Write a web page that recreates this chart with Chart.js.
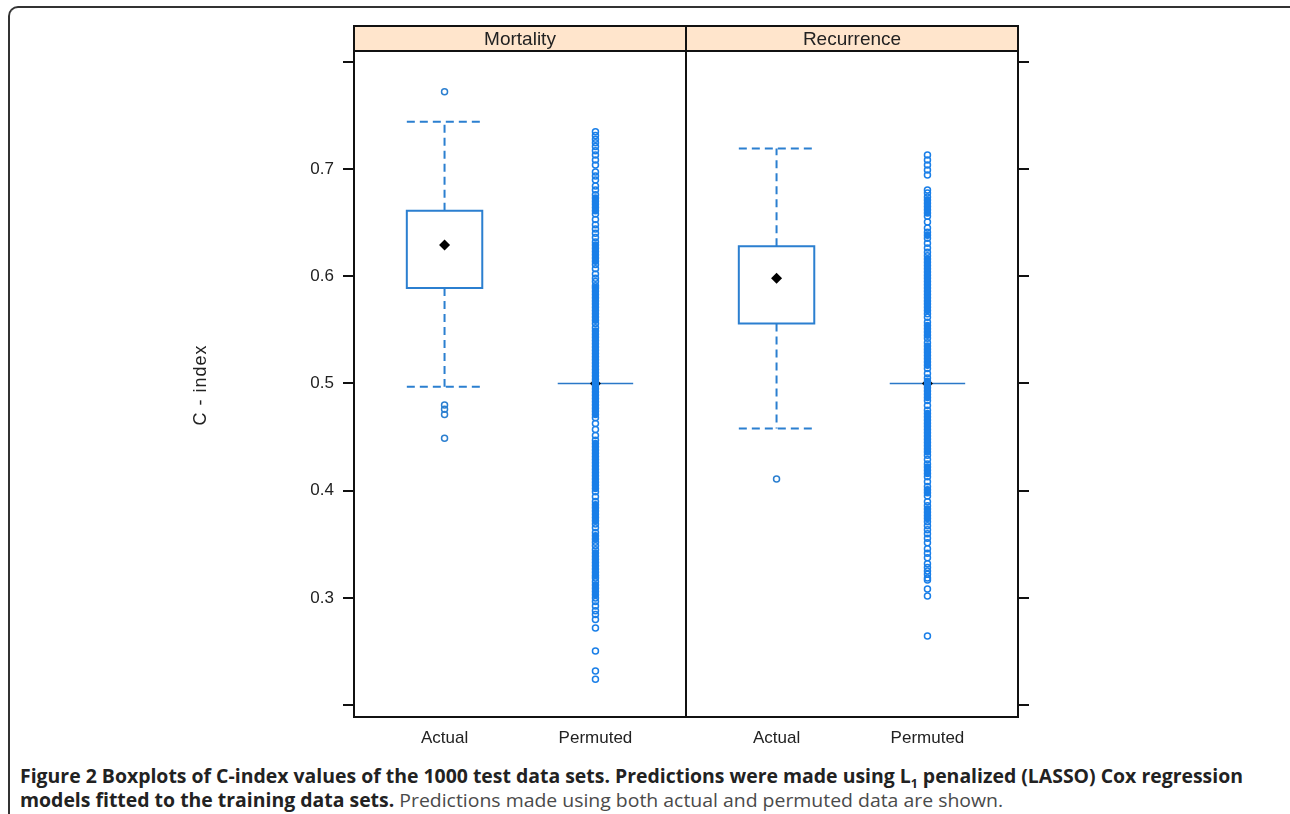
<!DOCTYPE html>
<html>
<head>
<meta charset="utf-8">
<script src="https://cdn.jsdelivr.net/npm/chart.js@4.4.0/dist/chart.umd.min.js"></script>
<style>
html, body { margin: 0; padding: 0; background: #fff; }
body { width: 1290px; height: 814px; position: relative; overflow: hidden; }
#frame { position: absolute; left: 8px; top: 6px; width: 1300px; height: 830px;
  border-top: 2px solid #333; border-left: 2px solid #333; border-top-left-radius: 10px; }
#chart { position: absolute; left: 0; top: 0; }
.cap { position: absolute; left: 20px; font-family: "Open Sans"; font-size: 19px;
  white-space: nowrap; transform-origin: 0 0; color: #222; }
.cap b { font-weight: 700; }
.cap span { color: #4a4a4a; }
.cap sub { font-size: 12px; }
</style>
</head>
<body>
<div id="frame"></div>
<canvas id="chart" width="1290" height="760"></canvas>
<div class="cap" id="cap1" style="top:763px"><b>Figure 2 Boxplots of C-index values of the 1000 test data sets. Predictions were made using L<sub>1</sub> penalized (LASSO) Cox regression</b></div>
<div class="cap" id="cap2" style="top:787px"><b>models fitted to the training data sets.</b><span> Predictions made using both actual and permuted data are shown.</span></div>
<script>
// --- DATA ---
const panels = ['Mortality', 'Recurrence'];
const groups = ['Actual', 'Permuted', 'Actual', 'Permuted'];
const groupPos = [1, 2, 3.2, 4.2];     // x positions (lattice units), panel split at 2.6

// box stats per group: lower whisker, q1, median, q3, upper whisker
const whiskLo = [0.497, 0.5, 0.458, 0.5];
const q1      = [0.589, 0.5, 0.556, 0.5];
const median  = [0.629, 0.5, 0.598, 0.5];
const q3      = [0.661, 0.5, 0.628, 0.5];
const whiskHi = [0.744, 0.5, 0.719, 0.5];

// outlying points
const mortActualOut = [0.772, 0.480, 0.476, 0.471, 0.449];
const mortPermOut = [
  0.7346, 0.7312, 0.7278, 0.7244, 0.7210, 0.7170, 0.7131, 0.7084, 0.7037, 0.6972, 0.6935, 0.6897, 0.6841, 0.6804,
  0.676, 0.673, 0.670, 0.667, 0.664, 0.661, 0.658, 0.653, 0.648, 0.644, 0.640, 0.636, 0.632, 0.629, 0.626, 0.623,
  0.620, 0.617, 0.614, 0.611, 0.607, 0.602, 0.598, 0.595, 0.591, 0.589, 0.586, 0.583, 0.580, 0.577, 0.574, 0.571,
  0.568, 0.565, 0.562, 0.559, 0.556, 0.552, 0.549, 0.546, 0.543, 0.540, 0.537, 0.534, 0.531, 0.528, 0.525, 0.522,
  0.519, 0.516, 0.513, 0.510, 0.507, 0.504, 0.501, 0.498, 0.495, 0.492, 0.489, 0.486, 0.483, 0.480, 0.477, 0.474,
  0.471, 0.468, 0.4626, 0.457, 0.4514, 0.447, 0.444, 0.441, 0.438, 0.435, 0.432, 0.429, 0.426, 0.423, 0.420, 0.417,
  0.414, 0.411, 0.408, 0.405, 0.402, 0.399, 0.3944, 0.390, 0.387, 0.384, 0.381, 0.378, 0.375, 0.372, 0.369, 0.3654,
  0.361, 0.358, 0.355, 0.352, 0.3486, 0.345, 0.342, 0.339, 0.336, 0.333, 0.330, 0.327, 0.324, 0.321, 0.3187, 0.315,
  0.312, 0.309, 0.306, 0.303, 0.300,
  0.2966, 0.2925, 0.288, 0.2845, 0.280, 0.272, 0.2505, 0.2318, 0.2243
];
const recActualOut = [0.411];
const recPermOut = [
  0.7131, 0.7084, 0.7037, 0.6991, 0.6944, 0.6804, 0.6776, 0.6738, 0.671,
  0.668, 0.665, 0.662, 0.659, 0.656, 0.6505, 0.6449, 0.641, 0.6383, 0.6355, 0.6308, 0.6262, 0.6224, 0.619, 0.616,
  0.613, 0.610, 0.607, 0.604, 0.601, 0.598, 0.595, 0.592, 0.589, 0.586, 0.583, 0.580, 0.577, 0.574, 0.571, 0.568,
  0.565, 0.5617, 0.557, 0.554, 0.551, 0.548, 0.545, 0.5421, 0.538, 0.535, 0.532, 0.529, 0.526, 0.523, 0.520, 0.517,
  0.514, 0.5093, 0.505, 0.502, 0.499, 0.496, 0.493, 0.490, 0.487, 0.484, 0.4794, 0.475, 0.472, 0.469, 0.466, 0.463,
  0.460, 0.457, 0.454, 0.451, 0.448, 0.445, 0.442, 0.439, 0.436, 0.433, 0.429, 0.425, 0.422, 0.419, 0.416, 0.413,
  0.4084, 0.404, 0.401, 0.398, 0.395, 0.3897, 0.386, 0.383, 0.380, 0.377, 0.374, 0.371, 0.3673, 0.3635, 0.3598,
  0.3556, 0.3514, 0.3458, 0.3416, 0.3374, 0.3318, 0.3285, 0.3252, 0.322, 0.3187, 0.3168,
  0.3084, 0.3019, 0.2645
];
const outliers = [mortActualOut, mortPermOut, recActualOut, recPermOut];

const yTickVals = [0.2, 0.3, 0.4, 0.5, 0.6, 0.7, 0.8];
const yTickLabels = ['', '0.3', '0.4', '0.5', '0.6', '0.7', ''];

// --- STYLE ---
const blue = '#1a7fe8';
const boxBlue = '#2b7fd0';
const axisFont = { family: 'Liberation Sans, Arial', size: 17 };

// --- lattice-ish panels, boxes and whiskers ---
const latticePlugin = {
  id: 'lattice',
  beforeDatasetsDraw(chart) {
    const { ctx, scales: { x, y } } = chart;
    ctx.save();
    groupPos.forEach((p, i) => {
      const cx = x.getPixelForValue(p);
      const hw = x.getPixelForValue(p + 0.25) - cx;
      const yq1 = y.getPixelForValue(q1[i]), yq3 = y.getPixelForValue(q3[i]);
      const ylo = y.getPixelForValue(whiskLo[i]), yhi = y.getPixelForValue(whiskHi[i]);
      ctx.strokeStyle = boxBlue;
      ctx.lineWidth = 2;
      if (yq1 === yq3) {
        // degenerate box: just the line
        ctx.lineWidth = 1.6;
        ctx.strokeStyle = '#2a78c8';
        ctx.beginPath(); ctx.moveTo(cx - hw, yq1); ctx.lineTo(cx + hw, yq1); ctx.stroke();
        return;
      }
      // whiskers
      ctx.setLineDash([8, 5]);
      ctx.beginPath();
      ctx.moveTo(cx, yq3); ctx.lineTo(cx, yhi);
      ctx.moveTo(cx, yq1); ctx.lineTo(cx, ylo);
      ctx.moveTo(cx - hw, yhi); ctx.lineTo(cx + hw, yhi);
      ctx.moveTo(cx - hw, ylo); ctx.lineTo(cx + hw, ylo);
      ctx.stroke();
      ctx.setLineDash([]);
      // box
      ctx.beginPath();
      ctx.rect(cx - hw, yq3, 2 * hw, yq1 - yq3);
      ctx.stroke();
    });
    ctx.restore();
  },
  afterDraw(chart) {
    const { ctx, chartArea: a, scales: { x } } = chart;
    const mid = x.getPixelForValue(2.6);
    ctx.save();
    // strips
    ctx.fillStyle = '#ffe5cc';
    ctx.fillRect(a.left, 26, a.right - a.left, a.top - 26);
    ctx.strokeStyle = '#111';
    ctx.lineWidth = 2;
    ctx.strokeRect(a.left, 26, mid - a.left, a.top - 26);
    ctx.strokeRect(mid, 26, a.right - mid, a.top - 26);
    ctx.fillStyle = '#222';
    ctx.font = '19px "Liberation Sans", Arial';
    ctx.textAlign = 'center';
    ctx.textBaseline = 'middle';
    ctx.fillText(panels[0], (a.left + mid) / 2, 40);
    ctx.fillText(panels[1], (mid + a.right) / 2, 40);
    // panel frames
    ctx.strokeRect(a.left, a.top, mid - a.left, a.bottom - a.top);
    ctx.strokeRect(mid, a.top, a.right - mid, a.bottom - a.top);
    // y title
    ctx.translate(201, (a.top + a.bottom) / 2 + 1);
    ctx.rotate(-Math.PI / 2);
    ctx.font = '18px "Liberation Sans", Arial';
    ctx.letterSpacing = '1px';
    ctx.fillText('C - index', 0, 0);
    ctx.restore();
  }
};

// points sitting in a dense run overlap into a solid column
const inDenseRun = (vals, j) => {
  const up = j > 0 ? Math.abs(vals[j - 1] - vals[j]) : 1;
  const dn = j < vals.length - 1 ? Math.abs(vals[j + 1] - vals[j]) : 1;
  return up < 0.0031 && dn < 0.0031;
};

const pointSets = outliers.map((vals, i) => ({
  data: vals.map(v => ({ x: groupPos[i], y: v })),
  pointStyle: 'circle',
  pointRadius: 3,
  pointBorderWidth: 1.5,
  pointBorderColor: i % 2 ? blue : boxBlue,
  pointBackgroundColor: ctx => inDenseRun(vals, ctx.dataIndex) ? blue : 'rgba(0,0,0,0)',
  showLine: false
}));

const medianSet = {
  data: median.map((m, i) => ({ x: groupPos[i], y: m })),
  pointStyle: 'rectRot',
  pointRadius: 5.5,
  pointBorderWidth: 0,
  pointBackgroundColor: '#000',
  pointBorderColor: '#000',
  showLine: false
};

const yScale = (pos) => ({
  type: 'linear',
  position: pos,
  min: 0.189,
  max: 0.810,
  afterBuildTicks: s => { s.ticks = yTickVals.map(v => ({ value: v })); },
  afterFit: s => { s.width = pos === 'left' ? 354 : 1290 - 1018; },
  ticks: {
    color: '#222',
    font: axisFont,
    padding: 9,
    callback: (v, idx) => pos === 'left' ? yTickLabels[idx] : ''
  },
  grid: { drawOnChartArea: false, drawTicks: true, tickLength: 11, color: '#111', lineWidth: 2 },
  border: { display: false }
});

new Chart(document.getElementById('chart'), {
  type: 'scatter',
  data: { datasets: [...pointSets, medianSet] },
  options: {
    responsive: false,
    animation: false,
    layout: { padding: { top: 51, left: 0, right: 0, bottom: 0 } },
    plugins: { legend: { display: false }, tooltip: { enabled: false } },
    scales: {
      x: {
        type: 'linear',
        min: 0.4,
        max: 4.8,
        afterBuildTicks: s => { s.ticks = groupPos.map(v => ({ value: v })); },
        afterFit: s => { s.height = 760 - 717; },
        ticks: { color: '#222', font: axisFont, padding: 11, callback: (v, idx) => groups[idx] },
        grid: { display: false, drawTicks: false },
        border: { display: false }
      },
      y: yScale('left'),
      y2: yScale('right')
    }
  },
  plugins: [latticePlugin]
});

// squeeze caption to the condensed width of the original
document.fonts.ready.then(() => {
  const c1 = document.getElementById('cap1'), c2 = document.getElementById('cap2');
  const k = 1223 / c1.getBoundingClientRect().width;
  c1.style.transform = c2.style.transform = `scaleX(${k})`;
});
</script>
</body>
</html>
